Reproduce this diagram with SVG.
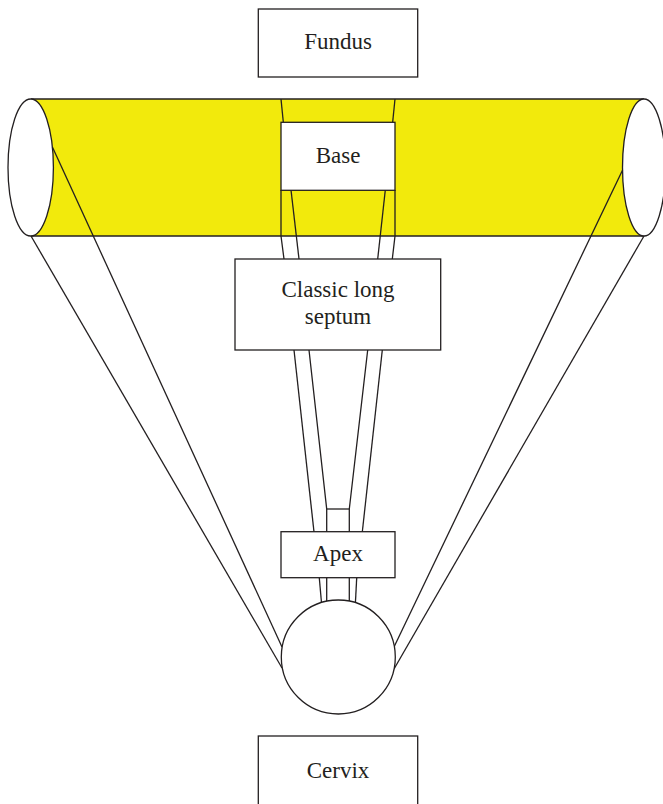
<svg xmlns="http://www.w3.org/2000/svg" width="663" height="804" viewBox="0 0 663 804">
  <style>
    .ln { fill: none; stroke: #231f20; stroke-width: 1.3; stroke-linejoin: miter; }
    .box { fill: #ffffff; stroke: #231f20; stroke-width: 1.3; }
    .lbl { font-family: "Liberation Serif", "Times New Roman", serif; font-size: 23px; fill: #231f20; text-anchor: middle; }
  </style>

  <!-- cylinder body (fundus band) -->
  <g id="cylinder">
    <rect x="31" y="99" width="613" height="137" fill="#f2ea0c"/>
    <line class="ln" x1="31" y1="99" x2="644" y2="99"/>
    <line class="ln" x1="31" y1="236" x2="644" y2="236"/>
    <ellipse class="box" cx="30.7" cy="167.5" rx="22.7" ry="68.5"/>
    <ellipse class="box" cx="644" cy="167.5" rx="21.5" ry="68.5"/>
  </g>

  <!-- septum walls and side walls -->
  <g id="connectors">
    <!-- side walls from the cylinder ends to the cervix -->
    <line class="ln" x1="52.4" y1="147" x2="282" y2="647"/>
    <line class="ln" x1="31" y1="236" x2="282" y2="668"/>
    <line class="ln" x1="622.6" y1="170" x2="394" y2="647"/>
    <line class="ln" x1="644" y1="236" x2="394" y2="669"/>

    <!-- above base -->
    <line class="ln" x1="281" y1="99" x2="283.3" y2="122"/>
    <line class="ln" x1="395" y1="99" x2="392.7" y2="122"/>

    <!-- base to septum -->
    <polyline class="ln" points="281,190 281,236 284,259"/>
    <polyline class="ln" points="395,190 395,236 392.3,259"/>
    <line class="ln" x1="291" y1="190" x2="299" y2="259"/>
    <line class="ln" x1="385.3" y1="190" x2="377.7" y2="259"/>

    <!-- septum to apex -->
    <line class="ln" x1="294" y1="350" x2="314" y2="532"/>
    <line class="ln" x1="382.3" y1="350" x2="362.3" y2="532"/>
    <polyline class="ln" points="309,350 326.7,509 326.7,532"/>
    <polyline class="ln" points="367.7,350 349.3,509 349.3,532"/>
    <line class="ln" x1="326.7" y1="509" x2="349.3" y2="509"/>

    <!-- apex to cervix -->
    <line class="ln" x1="319.3" y1="578" x2="321.7" y2="605"/>
    <line class="ln" x1="326.7" y1="578" x2="326.7" y2="605"/>
    <line class="ln" x1="349.3" y1="578" x2="349.3" y2="605"/>
    <line class="ln" x1="356.7" y1="578" x2="355.3" y2="605"/>
  </g>

  <g id="fundus">
    <rect class="box" x="258.3" y="9" width="159.4" height="68"/>
    <text class="lbl" x="338" y="49">Fundus</text>
  </g>

  <g id="base">
    <rect class="box" x="281" y="122.3" width="114" height="68"/>
    <text class="lbl" x="338" y="162.5">Base</text>
  </g>

  <g id="septum">
    <rect class="box" x="235" y="259" width="205.7" height="91"/>
    <text class="lbl" x="338" y="297">Classic long</text>
    <text class="lbl" x="338" y="324">septum</text>
  </g>

  <g id="apex">
    <rect class="box" x="281" y="531.7" width="114" height="46"/>
    <text class="lbl" x="338" y="561">Apex</text>
  </g>

  <g id="os">
    <circle class="box" cx="338.3" cy="657" r="57"/>
  </g>

  <g id="cervix">
    <rect class="box" x="258.3" y="736" width="159.4" height="80"/>
    <text class="lbl" x="338" y="778">Cervix</text>
  </g>
</svg>
